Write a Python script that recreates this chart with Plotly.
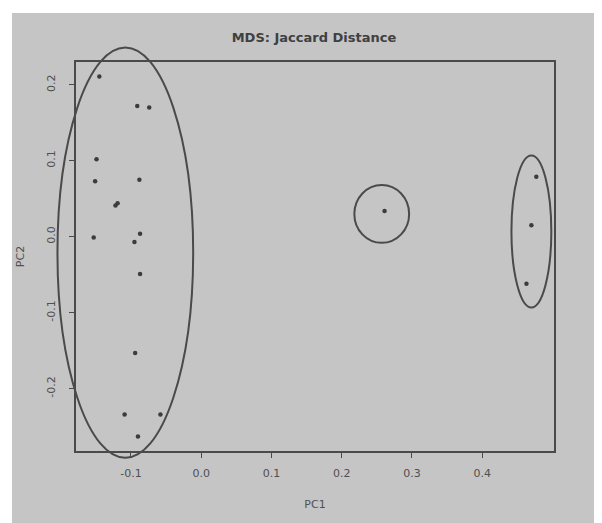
import plotly.graph_objects as go

# Data
pc1 = [-0.145, -0.091, -0.074, -0.149, -0.151, -0.088, -0.122, -0.119,
       -0.153, -0.087, -0.095, -0.087, -0.094, -0.109, -0.058, -0.090,
       0.261, 0.477, 0.470, 0.463]
pc2 = [0.211, 0.172, 0.170, 0.102, 0.073, 0.075, 0.041, 0.044,
       -0.001, 0.004, -0.007, -0.049, -0.153, -0.234, -0.234, -0.263,
       0.034, 0.079, 0.015, -0.062]

# Cluster ellipses: centre x, centre y, half-width, half-height (data units)
ell_cx = [-0.108, 0.257, 0.470]
ell_cy = [-0.021, 0.030, 0.007]
ell_rx = [0.0966, 0.039, 0.0284]
ell_ry = [0.270, 0.038, 0.100]

x_ticks = [-0.1, 0.0, 0.1, 0.2, 0.3, 0.4]
y_ticks = [-0.2, -0.1, 0.0, 0.1, 0.2]

# R-style 4% axis expansion
def r_range(v):
    lo, hi = min(v), max(v)
    d = hi - lo
    return [lo - 0.04 * d, hi + 0.04 * d]

xr = r_range(pc1)
yr = r_range(pc2)

GRAY_BG = "#c5c5c5"
INK = "#4a4a4a"
TXT = "#505050"
FONT = "DejaVu Sans, Liberation Sans, Arial"

fig = go.Figure()
fig.add_trace(go.Scatter(
    x=pc1, y=pc2, mode="markers",
    marker=dict(size=4.5, color="#3c3c3c"),
    showlegend=False, hoverinfo="x+y",
))

shapes = [
    # photographed paper area (gray) on white page
    dict(type="rect", xref="paper", yref="paper", x0=-0.134, x1=1.2, y0=-0.3, y1=1.126,
         fillcolor=GRAY_BG, line=dict(width=0), layer="below"),
]

def to_dom(v, r):
    return (v - r[0]) / (r[1] - r[0])

for cx, cy, rx, ry in zip(ell_cx, ell_cy, ell_rx, ell_ry):
    shapes.append(dict(
        type="circle", xref="x domain", yref="y domain",
        x0=to_dom(cx - rx, xr), x1=to_dom(cx + rx, xr),
        y0=to_dom(cy - ry, yr), y1=to_dom(cy + ry, yr),
        line=dict(color=INK, width=2), layer="above",
    ))

fig.update_layout(
    width=602, height=523,
    margin=dict(l=68, r=56, t=54, b=80),
    paper_bgcolor="white",
    plot_bgcolor=GRAY_BG,
    shapes=shapes,
    title=dict(text="<b>MDS: Jaccard Distance</b>", x=(314 - 8) / 602, xanchor="center",
               y=1 - 29 / 523, yanchor="middle",
               font=dict(family=FONT, size=13, color="#404040")),
    font=dict(family=FONT, size=11, color=TXT),
)

fig.update_xaxes(
    range=xr, tickvals=x_ticks, ticktext=[f"{v:.1f}" for v in x_ticks],
    showgrid=False, zeroline=False, showline=True, mirror=True, automargin=False,
    linecolor=INK, linewidth=1.5, ticks="outside", ticklen=5, tickcolor=INK,
    ticklabelstandoff=6,
    title=dict(text="PC1", standoff=21, font=dict(size=11, color=TXT)),
)
fig.update_yaxes(
    range=yr, tickvals=y_ticks, ticktext=[f"{v:.1f}" for v in y_ticks],
    tickangle=-90, automargin=False,
    showgrid=False, zeroline=False, showline=True, mirror=True,
    linecolor=INK, linewidth=1.5, ticks="outside", ticklen=5, tickcolor=INK,
    ticklabelstandoff=10,
    title=dict(text="PC2", standoff=18, font=dict(size=11, color=TXT)),
)

fig.write_html("out.html")
